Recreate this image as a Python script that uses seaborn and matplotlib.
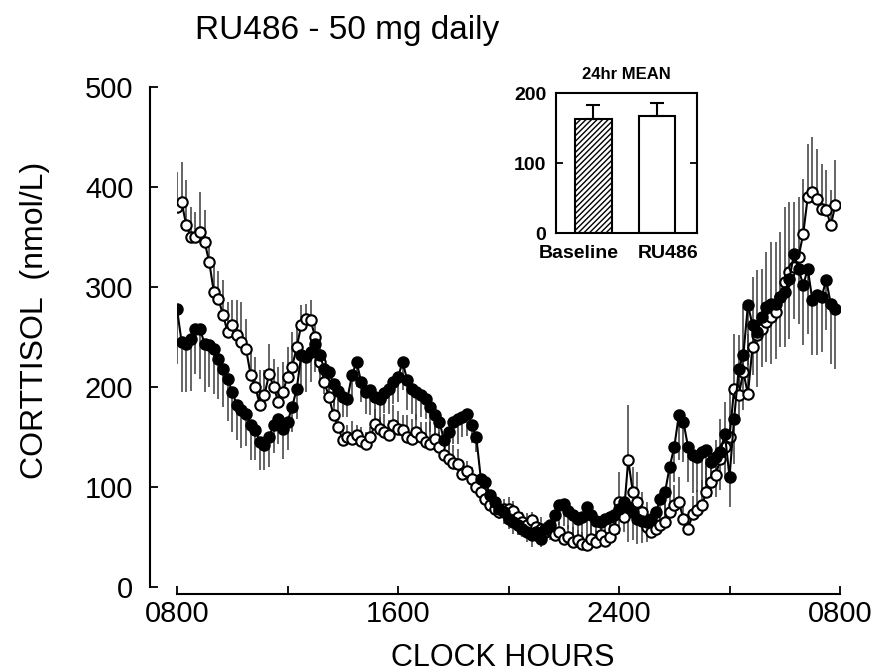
import numpy as np
import pandas as pd
import matplotlib
matplotlib.use("Agg")
import matplotlib.pyplot as plt
import seaborn as sns

sns.set_style("ticks")
plt.rcParams["font.family"] = ["Liberation Sans", "DejaVu Sans"]
plt.rcParams["hatch.linewidth"] = 1.0

# ---- data: 10-minute samples starting at 0800 ----
minutes_after_0800 = np.arange(0, 1440, 10)

baseline = [
    278, 245, 243, 248, 258, 258, 243, 242, 238, 228, 218, 208,
    195, 182, 177, 173, 162, 157, 145, 142, 150, 162, 168, 158,
    165, 180, 198, 232, 230, 235, 243, 232, 218, 215, 203, 196,
    190, 188, 212, 225, 205, 195, 197, 190, 188, 194, 198, 205,
    210, 225, 207, 198, 195, 192, 188, 180, 172, 165, 147, 155,
    165, 168, 170, 173, 162, 150, 108, 105, 92, 85, 78, 75,
    68, 65, 62, 58, 55, 52, 55, 48, 58, 62, 72, 82,
    83, 76, 72, 68, 70, 80, 72, 66, 65, 68, 70, 72,
    78, 85, 80, 75, 68, 66, 65, 68, 75, 88, 95, 120,
    140, 172, 165, 140, 132, 130, 135, 137, 125, 130, 135, 153,
    110, 168, 218, 232, 282, 262, 255, 270, 280, 283, 283, 290,
    295, 308, 333, 318, 302, 318, 287, 292, 290, 307, 283, 278,
]
baseline_se = [
    55, 50, 48, 52, 45, 50, 48, 42, 45, 40, 38, 42,
    40, 35, 38, 32, 35, 30, 28, 25, 30, 28, 25, 30,
    28, 25, 30, 32, 35, 30, 28, 30, 25, 28, 22, 25,
    20, 18, 22, 25, 20, 22, 25, 28, 22, 20, 25, 22,
    25, 28, 30, 25, 28, 22, 20, 25, 22, 20, 15, 18,
    22, 25, 20, 22, 18, 15, 15, 12, 10, 12, 10, 12,
    10, 12, 10, 8, 10, 12, 10, 8, 12, 15, 18, 20,
    22, 18, 20, 25, 22, 28, 25, 20, 22, 25, 28, 22,
    25, 30, 35, 28, 25, 22, 20, 18, 20, 22, 25, 30,
    35, 45, 40, 35, 38, 35, 40, 38, 35, 40, 38, 45,
    30, 45, 50, 55, 60, 50, 55, 50, 55, 60, 55, 50,
    55, 60, 65, 55, 60, 65, 55, 60, 55, 50, 60, 60,
]
ru486 = [
    380, 385, 362, 350, 350, 355, 345, 325, 295, 288, 272, 255,
    262, 252, 245, 238, 212, 200, 182, 192, 213, 200, 185, 195,
    210, 220, 240, 262, 268, 267, 250, 225, 205, 190, 172, 160,
    147, 150, 148, 152, 146, 143, 150, 163, 158, 155, 152, 162,
    158, 157, 150, 148, 155, 150, 145, 143, 148, 140, 132, 128,
    124, 123, 113, 116, 108, 100, 95, 88, 82, 78, 75, 78,
    78, 76, 70, 65, 62, 67, 60, 58, 55, 57, 52, 55,
    48, 50, 45, 47, 43, 42, 48, 45, 52, 46, 50, 58,
    85, 70, 127, 95, 85, 75, 60, 55, 58, 62, 65, 75,
    82, 85, 68, 58, 73, 77, 82, 95, 105, 112, 128, 140,
    150, 198, 192, 215, 193, 240, 252, 258, 265, 270, 275, 290,
    305, 315, 320, 330, 353, 390, 395, 388, 378, 377, 362, 382,
]
ru486_se = [
    35, 40, 45, 30, 25, 40, 32, 25, 30, 28, 35, 30,
    25, 35, 40, 30, 28, 30, 35, 25, 30, 28, 35, 30,
    30, 35, 25, 20, 15, 20, 18, 20, 15, 12, 15, 10,
    15, 12, 18, 10, 14, 12, 10, 15, 12, 18, 15, 20,
    18, 15, 22, 20, 18, 15, 20, 22, 18, 15, 20, 15,
    18, 15, 12, 10, 12, 10, 8, 10, 12, 10, 8, 10,
    12, 10, 8, 10, 12, 8, 10, 12, 10, 8, 12, 10,
    10, 12, 15, 10, 12, 10, 15, 12, 10, 12, 15, 20,
    30, 20, 55, 25, 30, 20, 25, 20, 15, 15, 18, 20,
    20, 25, 20, 15, 18, 20, 25, 30, 30, 35, 40, 45,
    50, 55, 60, 65, 60, 70, 65, 60, 70, 75, 70, 65,
    75, 70, 65, 60, 55, 53, 55, 50, 45, 40, 35, 45,
]

xtick_hours = [0, 8, 16, 24]
xtick_labels = ["0800", "1600", "2400", "0800"]
xminor_hours = [4, 12, 20]
yticks = [0, 100, 200, 300, 400, 500]

inset_groups = ["Baseline", "RU486"]
inset_means = [163, 167]
inset_se = [20, 19]

hours = minutes_after_0800 / 60.0
df = pd.DataFrame({
    "hours": np.concatenate([hours, hours]),
    "value": np.concatenate([baseline, ru486]),
    "se": np.concatenate([baseline_se, ru486_se]),
    "group": ["Baseline"] * len(hours) + ["RU486"] * len(hours),
})
base_df = df[df.group == "Baseline"]
ru_df = df[df.group == "RU486"]

W, H = 872, 672
X0, X1, Y0, Y1 = 177, 840, 587, 87
fig = plt.figure(figsize=(W / 100, H / 100), dpi=100)
ax = fig.add_axes([X0 / W, (H - Y0) / H, (X1 - X0) / W, (Y0 - Y1) / H])

# error bars: RU486 upward, baseline downward
ax.vlines(ru_df.hours, ru_df.value, ru_df.value + ru_df.se,
          color="#3a3a3a", lw=1.1, zorder=1)
ax.vlines(base_df.hours, base_df.value - base_df.se, base_df.value,
          color="#3a3a3a", lw=1.1, zorder=1)

sns.lineplot(data=ru_df, x="hours", y="value", ax=ax, color="black",
             lw=1.5, marker="o", markersize=7.5, markerfacecolor="white",
             markeredgecolor="black", markeredgewidth=1.5, zorder=3,
             legend=False)
sns.lineplot(data=base_df, x="hours", y="value", ax=ax, color="black",
             lw=1.5, marker="o", markersize=7.5, markerfacecolor="black",
             markeredgecolor="black", markeredgewidth=1.5, zorder=4,
             legend=False)

ax.set_xlim(0, 24)
ax.set_ylim(0, 500)
ax.set_xticks(xtick_hours)
ax.set_xticklabels(xtick_labels)
ax.set_xticks(xminor_hours, minor=True)
ax.set_yticks(yticks)
ax.tick_params(axis="both", which="both", direction="in", length=6,
               width=1.3, labelsize=21, colors="black")
ax.tick_params(axis="y", pad=12)
ax.tick_params(axis="x", pad=4)
sns.despine(ax=ax)
ax.spines["left"].set_position(("outward", 19.5))
ax.spines["bottom"].set_position(("outward", 5))
for s in ("left", "bottom"):
    ax.spines[s].set_linewidth(1.5)
    ax.spines[s].set_color("black")
ax.set_xlabel("CLOCK HOURS", fontsize=22, color="black")
ax.set_ylabel("CORTTISOL  (nmol/L)", fontsize=23, color="black")
ax.xaxis.set_label_coords((503 - X0) / (X1 - X0), (Y0 - 643) / (Y0 - Y1))
ax.yaxis.set_label_coords((50 - X0) / (X1 - X0), (Y0 - 320) / (Y0 - Y1))

fig.text(195 / W, 1 - 30 / H, "RU486 - 50 mg daily", fontsize=24,
         ha="left", va="center", color="black")

# ---- inset: 24 hr mean ----
axi = fig.add_axes([556 / W, (H - 233) / H, 141 / W, 140 / H])
sns.barplot(x=inset_groups, y=inset_means, ax=axi, color="white",
            saturation=1, edgecolor="black", linewidth=1.5, width=0.58,
            errorbar=None)
axi.patches[0].set_hatch("//////")
axi.errorbar([0, 1], inset_means, yerr=[[0, 0], inset_se], fmt="none",
             ecolor="black", elinewidth=1.5, capsize=5, capthick=1.5)
axi.set_xlim(-0.59, 1.63)
axi.set_ylim(0, 200)
axi.set_yticks([0, 100, 200])
axi.tick_params(axis="y", direction="in", length=5, width=1.3, right=True,
                labelsize=14, pad=7, colors="black")
for lab in axi.get_yticklabels():
    lab.set_fontweight("bold")
axi.set_xticks([])
for xpos, name in zip([-0.23, 1.17], inset_groups):
    axi.text(xpos, -17, name, fontsize=14, fontweight="bold",
             ha="center", va="top", color="black")
for s in axi.spines.values():
    s.set_visible(True)
    s.set_linewidth(1.5)
    s.set_color("black")
axi.set_xlabel("")
axi.set_ylabel("")
axi.set_title("24hr MEAN", fontsize=12, fontweight="bold", pad=10,
              color="black")

fig.savefig("out.png", dpi=100)
